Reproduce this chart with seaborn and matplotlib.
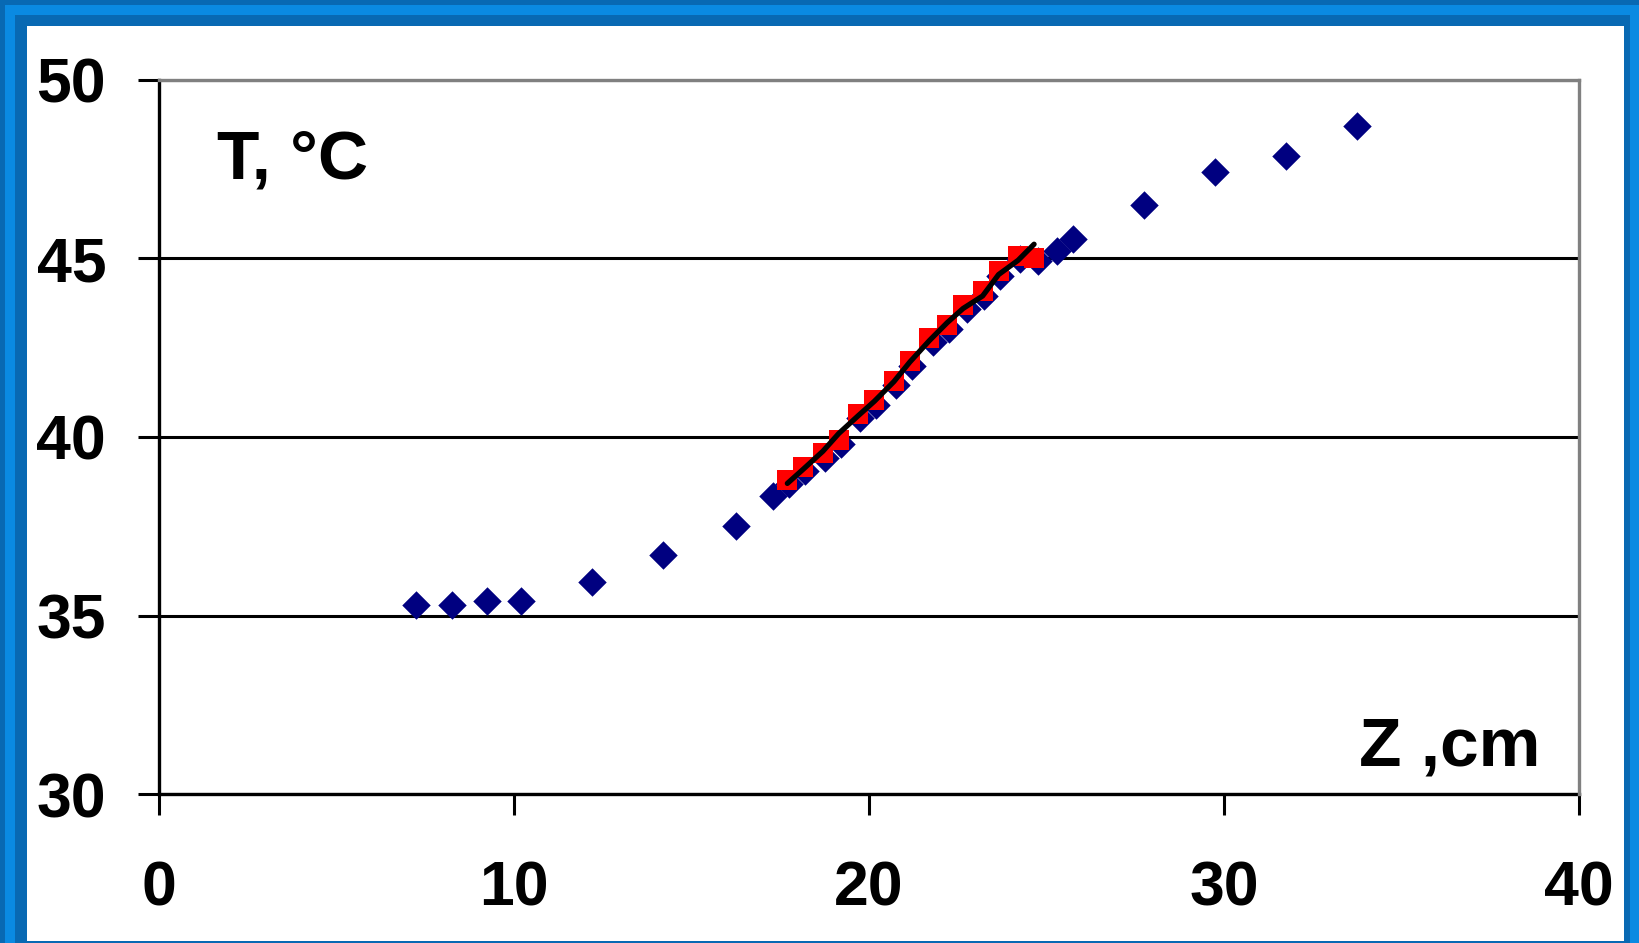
import matplotlib
matplotlib.use("Agg")
import matplotlib.pyplot as plt
from matplotlib.patches import Rectangle
import seaborn as sns

# Measured temperature profile T(Z)
z_blue = [7.25, 8.25, 9.25, 10.2, 12.2, 14.2, 16.25, 17.3,
          17.75, 18.2, 18.75, 19.2, 19.75, 20.2, 20.75, 21.2, 21.8,
          22.25, 22.75, 23.25, 23.7, 24.25, 24.75, 25.3, 25.75,
          27.75, 29.75, 31.75, 33.75]
t_blue = [35.3, 35.3, 35.4, 35.4, 35.95, 36.7, 37.5, 38.35,
          38.68, 39.05, 39.42, 39.8, 40.52, 40.9, 41.45, 42.0, 42.65,
          43.02, 43.58, 43.95, 44.5, 44.98, 44.93, 45.2, 45.55,
          46.5, 47.42, 47.88, 48.72]

# Second set of readings in the gradient zone
z_red = [17.7, 18.15, 18.7, 19.15, 19.7, 20.15, 20.7, 21.15,
         21.7, 22.2, 22.65, 23.2, 23.65, 24.2, 24.65]
t_red = [38.8, 39.17, 39.54, 39.92, 40.65, 41.03, 41.57, 42.13,
         42.78, 43.15, 43.7, 44.09, 44.64, 45.08, 45.01]

# Fitted curve through the gradient zone
t_fit = [38.7, 39.1, 39.6, 40.1, 40.6, 41.0, 41.55, 42.1,
         42.7, 43.2, 43.6, 43.95, 44.55, 44.95, 45.4]

x_ticks = [0, 10, 20, 30, 40]
y_ticks = [30, 35, 40, 45, 50]

sns.set_theme(style="white")
plt.rcParams["font.family"] = ["Liberation Sans", "DejaVu Sans"]
plt.rcParams["font.weight"] = "bold"

W, H = 1640, 943
fig = plt.figure(figsize=(W / 100, H / 100), dpi=100)


def frame_rect(x0, y0, x1, y1, color):
    r = Rectangle((x0 / W, 1 - y1 / H), (x1 - x0) / W, (y1 - y0) / H,
                  transform=fig.transFigure, facecolor=color,
                  edgecolor="none", zorder=-10)
    fig.patches.append(r)


# Blue slide frame
fig.patch.set_facecolor("#0869b3")
frame_rect(5, 5, 1640, 943, "#0a8ae2")
frame_rect(15, 15, 1630, 943, "#0869b3")
frame_rect(27, 26, 1624, 941, "white")

L, R, T, B = 159, 1579, 80, 794
ax = fig.add_axes([L / W, 1 - B / H, (R - L) / W, (B - T) / H])
ax.set_facecolor("white")

sns.scatterplot(x=z_blue, y=t_blue, marker="D", s=210, color="#000080",
                linewidth=0, ax=ax, zorder=3)
sns.scatterplot(x=z_red, y=t_red, marker="s", s=215, color="#ff0000",
                linewidth=0, ax=ax, zorder=4)
sns.lineplot(x=z_red, y=t_fit, color="black", linewidth=3.8, sort=False,
             estimator=None, ax=ax, zorder=5)

ax.set_xlim(0, 40)
ax.set_ylim(30, 50)
ax.set_xticks(x_ticks)
ax.set_yticks(y_ticks)
ax.set_xlabel("")
ax.set_ylabel("")

ax.set_axisbelow(True)
ax.yaxis.grid(True, color="black", linewidth=2.2)
ax.xaxis.grid(False)

for side in ("left", "bottom"):
    ax.spines[side].set_color("black")
    ax.spines[side].set_linewidth(2.4)
for side in ("top", "right"):
    ax.spines[side].set_color("#808080")
    ax.spines[side].set_linewidth(2.4)
    ax.spines[side].set_zorder(6)

ax.tick_params(axis="both", which="major", direction="out", length=15,
               width=2.2, color="black", labelsize=45, labelcolor="black")
ax.tick_params(axis="y", pad=23, left=True)
ax.tick_params(axis="x", pad=32, bottom=True)
for lab in ax.get_xticklabels() + ax.get_yticklabels():
    lab.set_fontweight("bold")

ax.text(0.0408, 0.8627, "T, °C", transform=ax.transAxes, fontsize=50,
        fontweight="bold", ha="left", va="baseline", color="black")
ax.text(0.9725, 0.0406, "Z ,cm", transform=ax.transAxes, fontsize=50,
        fontweight="bold", ha="right", va="baseline", color="black")

fig.savefig("out.png", dpi=100, facecolor=fig.get_facecolor())
